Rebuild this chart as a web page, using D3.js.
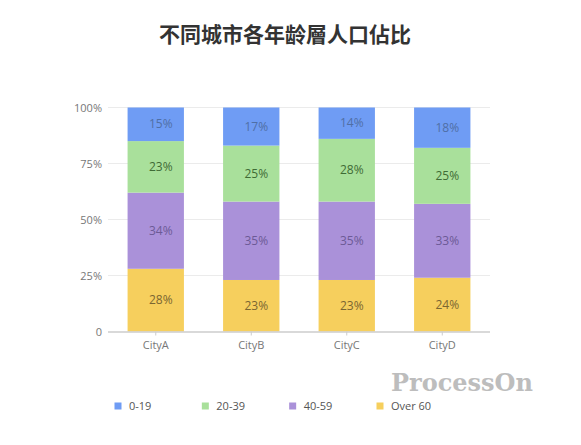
<!DOCTYPE html>
<html lang="zh"><head>
<meta charset="UTF-8"><title>不同城市各年龄層人口佔比</title>
<script src="https://cdn.jsdelivr.net/npm/d3@7/dist/d3.min.js"></script>
<style>
  body { margin:0; background:#fff; font-family: "Open Sans", "Noto Sans CJK SC", sans-serif; }
  svg { display:block; }
</style>
</head><body>
<svg id="chart" width="581" height="445"></svg>
<script>
// ───────────── data ─────────────
const cities = ['CityA', 'CityB', 'CityC', 'CityD'];
const groups = ['Over 60', '40-59', '20-39', '0-19'];   // bottom → top
const over60 = [28, 23, 23, 24];
const age4059 = [34, 35, 35, 33];
const age2039 = [23, 25, 28, 25];
const age019 = [15, 17, 14, 18];
const yTicks = [0, 25, 50, 75, 100];
const legendOrder = ['0-19', '20-39', '40-59', 'Over 60'];

const seriesValues = { 'Over 60': over60, '40-59': age4059, '20-39': age2039, '0-19': age019 };
const fill = { '0-19': '#6f9cf4', '20-39': '#a9e09b', '40-59': '#aa91d9', 'Over 60': '#f6cf5d' };
const ink = { '0-19': '#4f6fa6', '20-39': '#3f6b35', '40-59': '#6c5a96', 'Over 60': '#7a6632' };

const rows = cities.map((c, i) => {
  const r = { city: c };
  for (const g of groups) r[g] = seriesValues[g][i];
  return r;
});
const stacked = d3.stack().keys(groups)(rows);

const svg = d3.select('#chart');
const M = { left: 108, right: 490, top: 107.5, bottom: 331.5 };

const x = d3.scaleBand().domain(cities).range([M.left, M.right]).paddingInner(0.41).paddingOuter(0.205);
const y = d3.scaleLinear().domain([0, 100]).range([M.bottom, M.top]);

// title
svg.append('text')
  .attr('x', 285).attr('y', 42)
  .attr('text-anchor', 'middle')
  .attr('font-family', '"Noto Sans CJK SC", sans-serif')
  .attr('font-weight', 'bold').attr('font-size', 21).attr('fill', '#333')
  .text('不同城市各年龄層人口佔比');

// grid
svg.append('g').selectAll('line')
  .data(yTicks.filter(t => t > 0)).join('line')
  .attr('x1', M.left).attr('x2', M.right)
  .attr('y1', d => y(d)).attr('y2', d => y(d))
  .attr('stroke', '#ebebeb');

// y axis labels
const yAxis = d3.axisLeft(y).tickValues(yTicks).tickSize(0).tickPadding(0)
  .tickFormat(d => d === 0 ? '0' : d + '%');
svg.append('g').attr('transform', `translate(${M.left - 6},0)`).call(yAxis)
  .call(g => g.select('.domain').remove())
  .call(g => g.selectAll('text').attr('fill', '#777').attr('font-size', 11).attr('font-family', '"Open Sans", sans-serif'));

// bars
const layer = svg.append('g').selectAll('g').data(stacked).join('g')
  .attr('fill', d => fill[d.key]);
layer.selectAll('rect').data(d => d).join('rect')
  .attr('x', d => x(d.data.city))
  .attr('width', x.bandwidth())
  .attr('y', d => y(d[1]))
  .attr('height', d => y(d[0]) - y(d[1]));

// value labels
svg.append('g').selectAll('g').data(stacked).join('g')
  .attr('fill', d => ink[d.key])
  .selectAll('text').data(d => d).join('text')
  .attr('x', d => x(d.data.city) + x.bandwidth() / 2 + 5)
  .attr('y', d => (y(d[0]) + y(d[1])) / 2 + 4)
  .attr('text-anchor', 'middle')
  .attr('font-size', 12)
  .text(d => (d[1] - d[0]) + '%');

// x axis
const xAxis = d3.axisBottom(x).tickSize(4).tickPadding(6);
svg.append('g').attr('transform', `translate(0,${M.bottom})`).call(xAxis)
  .call(g => g.select('.domain').attr('d', `M${M.left},0.5H${M.right}`).attr('stroke', '#ccc').attr('stroke-width', 1.5))
  .call(g => g.selectAll('.tick line').attr('stroke', '#ccc'))
  .call(g => g.selectAll('text').attr('fill', '#777').attr('font-size', 11).attr('font-family', '"Open Sans", sans-serif'));

// legend
const legendX = d3.scalePoint().domain(legendOrder).range([118, 380]);
const lg = svg.append('g').selectAll('g').data(legendOrder).join('g')
  .attr('transform', d => `translate(${legendX(d)},406)`);
lg.append('rect').attr('x', -3.5).attr('y', -3.5).attr('width', 7).attr('height', 7)
  .attr('fill', d => fill[d]);
lg.append('text').attr('x', 11).attr('y', 4)
  .attr('font-size', 11).attr('fill', '#555')
  .text(d => d);

// watermark
svg.append('text')
  .attr('x', 391).attr('y', 391)
  .attr('font-family', '"DejaVu Serif", "Liberation Serif", serif')
  .attr('font-weight', 'bold').attr('font-size', 24).attr('fill', '#bdbdbd')
  .text('ProcessOn');
</script>
</body></html>
